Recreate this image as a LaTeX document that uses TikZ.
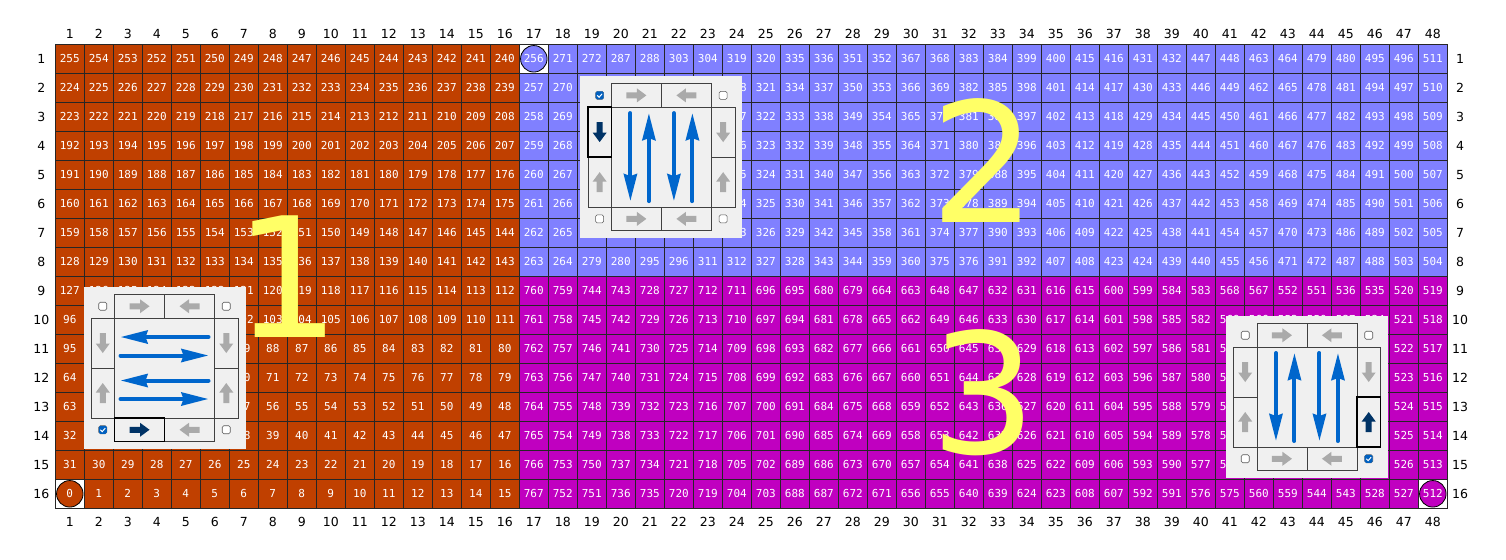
\documentclass[tikz,border=0pt]{standalone}
\usepackage{fontspec}
\setmainfont{DejaVu Sans}
\newfontfamily\cellfont{DejaVu Sans Mono}
\usetikzlibrary{arrows.meta}
\definecolor{zoneorange}{RGB}{192,64,0}
\definecolor{zoneblue}{RGB}{128,128,255}
\definecolor{zonemagenta}{RGB}{192,0,192}
\definecolor{bigyellow}{RGB}{255,255,102}
\definecolor{panelgray}{RGB}{240,240,240}
\definecolor{arrowgray}{RGB}{170,170,170}
\definecolor{arrownavy}{RGB}{0,51,102}
\definecolor{arrowblue}{RGB}{0,102,204}
\definecolor{checkblue}{RGB}{0,96,192}

\tikzset{
  blockarrow/.pic={\fill (-10,-3) -- (0.5,-3) -- (0.5,-7) -- (10,0) -- (0.5,7) -- (0.5,3) -- (-10,3) -- cycle;},
  ctrlpanel/.pic={
    \begin{scope}[x=1pt,y=1pt]
    \fill[panelgray] (-81,-81) rectangle (81,81);
    % buttons
    \draw[btnline] (-50,50) rectangle (50,73.5) (0,50) -- (0,73.5);
    \draw[btnline] (-50,-73.5) rectangle (50,-50) (0,-73.5) -- (0,-50);
    \draw[btnline] (-73.5,-50) rectangle (73.5,50);
    \draw[btnline] (-50,-50) -- (-50,50) (50,-50) -- (50,50)
      (-73.5,0) -- (-50,0) (50,0) -- (73.5,0);
    % gray arrows
    \pic[arrowgray] at (-25,61.75) {blockarrow};
    \pic[arrowgray, rotate=180] at (25,61.75) {blockarrow};
    \pic[arrowgray] at (-25,-61.75) {blockarrow};
    \pic[arrowgray, rotate=180] at (25,-61.75) {blockarrow};
    \pic[arrowgray, rotate=-90] at (-61.75,25) {blockarrow};
    \pic[arrowgray, rotate=90] at (-61.75,-25) {blockarrow};
    \pic[arrowgray, rotate=-90] at (61.75,25) {blockarrow};
    \pic[arrowgray, rotate=90] at (61.75,-25) {blockarrow};
    % check boxes
    \foreach \sx in {-1,1}
      \foreach \sy in {-1,1}
        \draw[checkbox] (\sx*61.75-4,\sy*61.75-4) rectangle ++(8,8);
    \end{scope}
  },
  btnline/.style={draw=black!75, line width=0.8pt},
  selbtn/.style={draw=black, line width=1.6pt, fill=panelgray},
  checkbox/.style={draw=black!65, fill=white, line width=0.6pt, rounded corners=1.5pt},
  checked/.style={fill=checkblue, rounded corners=1.5pt},
  bluearrow/.style={arrowblue, line width=4pt, line cap=round,
    -{Stealth[length=27pt, width=13pt, inset=2pt]}},
}

\begin{document}
\begin{tikzpicture}[x=29pt, y=29pt,
  cell/.style={draw=black!85, line width=0.8pt, minimum size=29pt, inner sep=0pt,
    text=white, font=\cellfont\fontsize{11}{13}\selectfont},
  startdot/.style={circle, draw=black, line width=0.8pt, minimum size=26.5pt, inner sep=0pt,
    text=white, font=\cellfont\fontsize{11}{13}\selectfont},
  axis/.style={inner sep=0pt, font=\fontsize{12.5}{14}\selectfont},
  bignum/.style={inner sep=0pt, text=bigyellow, font=\fontsize{167}{167}\selectfont}]

\useasboundingbox (-1.907,-1.782) rectangle (50.024,17.528);

% zone 1
\foreach \c in {1,...,16}
  \foreach \r in {1,...,16} {
    \pgfmathtruncatemacro\k{16-\r}
    \pgfmathtruncatemacro\v{mod(\k,2)==0 ? 16*\k+\c-1 : 16*\k+16-\c}
    \node[cell, fill=zoneorange] (c-\c-\r) at (\c-0.5,16.5-\r) {\v};
  }

% zone 2
\foreach \c in {17,...,48}
  \foreach \r in {1,...,8} {
    \pgfmathtruncatemacro\j{\c-17}
    \pgfmathtruncatemacro\v{mod(\j,2)==0 ? 256+8*\j+\r-1 : 256+8*\j+8-\r}
    \node[cell, fill=zoneblue] (c-\c-\r) at (\c-0.5,16.5-\r) {\v};
  }

% zone 3
\foreach \c in {17,...,48}
  \foreach \r in {9,...,16} {
    \pgfmathtruncatemacro\j{48-\c}
    \pgfmathtruncatemacro\v{mod(\j,2)==0 ? 512+8*\j+16-\r : 512+8*\j+\r-9}
    \node[cell, fill=zonemagenta] (c-\c-\r) at (\c-0.5,16.5-\r) {\v};
  }

% start cells
\node[cell, fill=white] (s-1) at (0.5,0.5) {};
\node[startdot, fill=zoneorange] (start1) at (s-1) {0};
\node[cell, fill=white] (s-2) at (16.5,15.5) {};
\node[startdot, fill=zoneblue] (start2) at (s-2) {256};
\node[cell, fill=white] (s-3) at (47.5,0.5) {};
\node[startdot, fill=zonemagenta] (start3) at (s-3) {512};

% axis labels
\foreach \c in {1,...,48} {
  \node[axis] (top-\c) at (\c-0.5,16.37) {\c};
  \node[axis] (bot-\c) at (\c-0.5,-0.47) {\c};
}
\foreach \r in {1,...,16} {
  \node[axis] (lft-\r) at (-0.48,16.5-\r) {\r};
  \node[axis] (rgt-\r) at (48.44,16.5-\r) {\r};
}

% zone numbers
\node[bignum] (zone1) at (8,8) {1};
\node[bignum] (zone2) at (32,12) {2};
\node[bignum] (zone3) at (32,4) {3};

% panel 1
\pic (p1) at (3.766,4.838) {ctrlpanel};
\begin{scope}[shift={(3.766,4.838)}, x=1pt, y=1pt]
  \draw[selbtn] (-50,-73.5) rectangle (0,-50);
  \pic[arrownavy] at (-25,-61.75) {blockarrow};
  \fill[checked] (-65.75,-65.75) rectangle ++(8,8);
  \draw[white, line width=1pt] (-64.2,-61.8) -- (-62.3,-63.6) -- (-59.3,-60.2);
  \draw[bluearrow] (44,31) -- (-44,31);
  \draw[bluearrow] (-44,12.5) -- (44,12.5);
  \draw[bluearrow] (44,-12.5) -- (-44,-12.5);
  \draw[bluearrow] (-44,-31) -- (44,-31);
\end{scope}

% panel 2
\pic (p2) at (20.90,12.11) {ctrlpanel};
\begin{scope}[shift={(20.90,12.11)}, x=1pt, y=1pt]
  \draw[selbtn] (-73.5,0) rectangle (-50,50);
  \pic[arrownavy, rotate=-90] at (-61.75,25) {blockarrow};
  \fill[checked] (-65.75,57.75) rectangle ++(8,8);
  \draw[white, line width=1pt] (-64.2,61.7) -- (-62.3,59.9) -- (-59.3,63.3);
  \draw[bluearrow] (-31,44) -- (-31,-44);
  \draw[bluearrow] (-12.5,-44) -- (-12.5,44);
  \draw[bluearrow] (12.5,44) -- (12.5,-44);
  \draw[bluearrow] (31,-44) -- (31,44);
\end{scope}

% panel 3
\pic (p3) at (43.16,3.838) {ctrlpanel};
\begin{scope}[shift={(43.16,3.838)}, x=1pt, y=1pt]
  \draw[selbtn] (50,-50) rectangle (73.5,0);
  \pic[arrownavy, rotate=90] at (61.75,-25) {blockarrow};
  \fill[checked] (57.75,-65.75) rectangle ++(8,8);
  \draw[white, line width=1pt] (59.3,-61.8) -- (61.2,-63.6) -- (64.2,-60.2);
  \draw[bluearrow] (-31,44) -- (-31,-44);
  \draw[bluearrow] (-12.5,-44) -- (-12.5,44);
  \draw[bluearrow] (12.5,44) -- (12.5,-44);
  \draw[bluearrow] (31,-44) -- (31,44);
\end{scope}

\end{tikzpicture}
\end{document}
